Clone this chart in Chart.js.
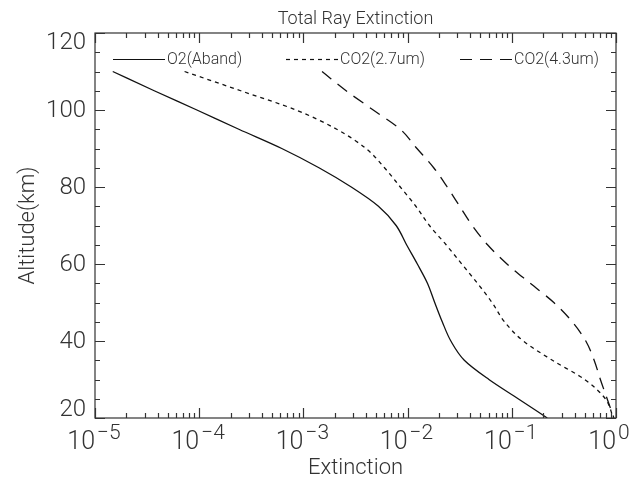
<!DOCTYPE html>
<html lang="en">
<head>
  <meta charset="UTF-8">
  <title>Total Ray Extinction</title>
  <script src="https://cdn.jsdelivr.net/npm/chart.js"></script>
  <style>
    body { margin: 0; background: #fff; }
  </style>
</head>
<body>
  <canvas id="extChart" width="636" height="483"></canvas>
  <script>
    // altitude levels (km) shared by the three curves
    const altitude = [110, 105, 100, 95, 90, 85, 80, 75, 70, 65, 60, 55, 50, 45, 40, 35, 30, 25, 20];

    // extinction
    const o2Aband = [1.48e-5, 3.7e-5, 9.5e-5, 2.4e-4, 6.2e-4, 1.41e-3, 2.88e-3, 5.25e-3, 7.76e-3, 9.77e-3,
      1.24e-2, 1.55e-2, 1.82e-2, 2.15e-2, 2.6e-2, 3.5e-2, 6.03e-2, 0.115, 0.219];
    const co2_27um = [7.24e-5, 2.5e-4, 8.5e-4, 2.09e-3, 3.98e-3, 6.0e-3, 8.51e-3, 1.20e-2, 1.62e-2, 2.34e-2,
      3.31e-2, 4.68e-2, 6.46e-2, 8.5e-2, 0.129, 0.245, 0.50, 0.79, 0.944];
    const co2_43um = [1.51e-3, 2.57e-3, 4.68e-3, 8.51e-3, 1.23e-2, 1.78e-2, 2.40e-2, 3.16e-2, 4.17e-2, 5.85e-2,
      8.99e-2, 0.150, 0.253, 0.380, 0.513, 0.617, 0.708, 0.822, 0.955];

    const seriesNames = ['O2(Aband)', 'CO2(2.7um)', 'CO2(4.3um)'];
    const seriesDash = [[], [4, 4], [12, 8]];
    const yTicks = [20, 40, 60, 80, 100, 120];
    const xExponents = [-5, -4, -3, -2, -1, 0];

    const FONT = 'Roboto, "Liberation Sans", sans-serif';
    const INK = '#333';

    function toPoints(values) {
      return altitude.map((a, i) => ({ x: values[i], y: a }));
    }

    // IDL style box, ticks, labels and legend
    const idlFrame = {
      id: 'idlFrame',
      afterDraw(chart) {
        const ctx = chart.ctx;
        const area = chart.chartArea;
        const xs = chart.scales.x;
        const ys = chart.scales.y;
        ctx.save();
        ctx.strokeStyle = INK;
        ctx.fillStyle = INK;
        ctx.lineWidth = 1.2;
        ctx.setLineDash([]);
        ctx.strokeRect(area.left, area.top, area.right - area.left, area.bottom - area.top);

        // y ticks: major every 20, minor every 5, on both sides
        ctx.beginPath();
        for (let v = 20; v <= 120; v += 5) {
          const py = Math.round(ys.getPixelForValue(v)) + 0.5;
          const len = v % 20 === 0 ? 10 : 5;
          ctx.moveTo(area.left, py); ctx.lineTo(area.left + len, py);
          ctx.moveTo(area.right, py); ctx.lineTo(area.right - len, py);
        }
        // x ticks: decades and 2..9, top and bottom
        for (let e = -5; e <= 0; e++) {
          for (let m = 1; m <= 9; m++) {
            const val = m * Math.pow(10, e);
            if (val > 1) break;
            const px = Math.round(xs.getPixelForValue(val)) + 0.5;
            const len = m === 1 ? 10 : 5;
            ctx.moveTo(px, area.bottom); ctx.lineTo(px, area.bottom - len);
            ctx.moveTo(px, area.top); ctx.lineTo(px, area.top + len);
          }
        }
        ctx.stroke();

        // y tick labels
        ctx.font = '300 24px ' + FONT;
        ctx.textAlign = 'right';
        ctx.textBaseline = 'middle';
        yTicks.forEach(v => {
          let py = ys.getPixelForValue(v);
          py = Math.min(Math.max(py, area.top + 9), area.bottom - 9);
          ctx.fillText(String(v), area.left - 9, py + 1);
        });

        // x tick labels 10^n
        ctx.textBaseline = 'alphabetic';
        xExponents.forEach(e => {
          const px = xs.getPixelForValue(Math.pow(10, e));
          ctx.font = '300 25px ' + FONT;
          ctx.textAlign = 'right';
          ctx.fillText('10', px, area.bottom + 31);
          ctx.font = '300 21px ' + FONT;
          ctx.textAlign = 'left';
          ctx.fillText(e < 0 ? '\u2212' + (-e) : String(e), px + 2, area.bottom + 21);
        });

        // axis titles and title
        ctx.textAlign = 'center';
        ctx.font = '300 22px ' + FONT;
        ctx.fillText('Extinction', (area.left + area.right) / 2, area.bottom + 56);
        ctx.font = '300 18px ' + FONT;
        ctx.fillText('Total Ray Extinction', (area.left + area.right) / 2, 24);
        ctx.save();
        ctx.translate(34, (area.top + area.bottom) / 2);
        ctx.rotate(-Math.PI / 2);
        ctx.font = '300 22px ' + FONT;
        ctx.fillText('Altitude(km)', 0, 0);
        ctx.restore();

        // legend across the top of the plot
        const legendX = [18, 191, 365];
        const legendY = area.top + 26;
        ctx.font = '300 16px ' + FONT;
        ctx.textAlign = 'left';
        ctx.textBaseline = 'alphabetic';
        seriesNames.forEach((name, i) => {
          const x0 = area.left + legendX[i];
          ctx.setLineDash(seriesDash[i]);
          ctx.lineWidth = 1.2;
          ctx.strokeStyle = '#111';
          ctx.beginPath();
          ctx.moveTo(x0, legendY + 0.5);
          ctx.lineTo(x0 + 52, legendY + 0.5);
          ctx.stroke();
          ctx.fillText(name, x0 + 54, legendY + 5);
        });
        ctx.restore();
      }
    };

    const ctx = document.getElementById('extChart').getContext('2d');
    new Chart(ctx, {
      type: 'line',
      data: {
        datasets: [o2Aband, co2_27um, co2_43um].map((vals, i) => ({
          label: seriesNames[i],
          data: toPoints(vals),
          borderColor: '#111',
          borderWidth: 1.3,
          borderDash: seriesDash[i],
          pointRadius: 0,
          cubicInterpolationMode: 'monotone',
          fill: false
        }))
      },
      options: {
        indexAxis: 'y',
        responsive: false,
        animation: false,
        layout: { padding: { left: 95, right: 20, top: 33, bottom: 65 } },
        scales: {
          x: { type: 'logarithmic', min: 1e-5, max: 1, display: false },
          y: { type: 'linear', min: 20, max: 120, display: false }
        },
        plugins: {
          legend: { display: false },
          tooltip: { enabled: false }
        }
      },
      plugins: [idlFrame]
    });
  </script>
</body>
</html>
